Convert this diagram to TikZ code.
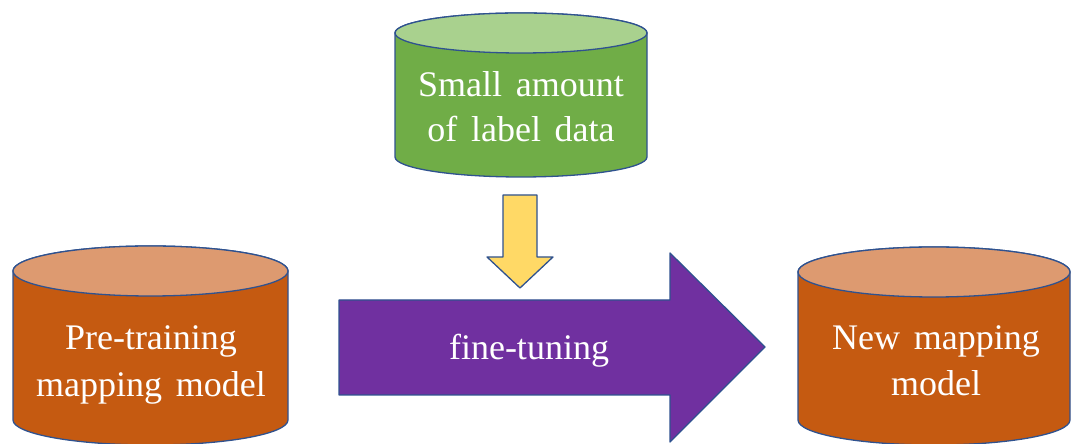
\documentclass[tikz,border=0pt]{standalone}
\usepackage{fontspec}
\setmainfont{Liberation Serif}
\definecolor{edge}{RGB}{47,82,143}
\definecolor{gbody}{RGB}{112,173,71}
\definecolor{gtop}{RGB}{169,209,142}
\definecolor{obody}{RGB}{197,90,17}
\definecolor{otop}{RGB}{221,154,112}
\definecolor{purp}{RGB}{112,48,160}
\definecolor{yell}{RGB}{255,217,102}
\tikzset{
  shapeline/.style={draw=edge, line width=1.3pt, line join=round},
  lbl/.style={anchor=base, inner sep=0pt, text=white,
    font=\fontsize{36}{44}\selectfont,
    execute at begin node={\spaceskip=0.38em plus 0.1em minus 0.1em\relax}},
}
\begin{document}
\begin{tikzpicture}[x=1pt,y=1pt]
\useasboundingbox (0,0) rectangle (1071,444);
% green cylinder
\path[shapeline, fill=gbody] (395,411) -- (395,287) arc (180:360:126 and 20) -- (647,411) arc (0:180:126 and 20) -- cycle;
\path[shapeline, fill=gtop] (521,411) ellipse (126 and 20);
% left cylinder
\path[shapeline, fill=obody] (13,173) -- (13,24) arc (180:360:137.5 and 25) -- (288,173) arc (0:180:137.5 and 25) -- cycle;
\path[shapeline, fill=otop] (150.5,173) ellipse (137.5 and 25);
% right cylinder
\path[shapeline, fill=obody] (798,172) -- (798,24) arc (180:360:136 and 25) -- (1070,172) arc (0:180:136 and 25) -- cycle;
\path[shapeline, fill=otop] (934,172) ellipse (136 and 25);
% purple arrow
\path[shapeline, fill=purp] (339,144) -- (670,144) -- (670,191) -- (765,97) -- (670,2) -- (670,49) -- (339,49) -- cycle;
% yellow arrow
\path[shapeline, fill=yell] (503,249) -- (537,249) -- (537,187) -- (553,187) -- (520,156) -- (487,187) -- (503,187) -- cycle;
% labels
\node[lbl] (g1) at (521,347) {Small amount};
\node[lbl] (g2) at (521,302) {of label data};
\node[lbl] (p1) at (151,94) {Pre-training};
\node[lbl] (p2) at (151,47) {mapping model};
\node[lbl] (n1) at (936,94) {New mapping};
\node[lbl] (n2) at (936,48) {model};
\node[lbl] (ft) at (529,84) {fine-tuning};
\end{tikzpicture}
\end{document}
